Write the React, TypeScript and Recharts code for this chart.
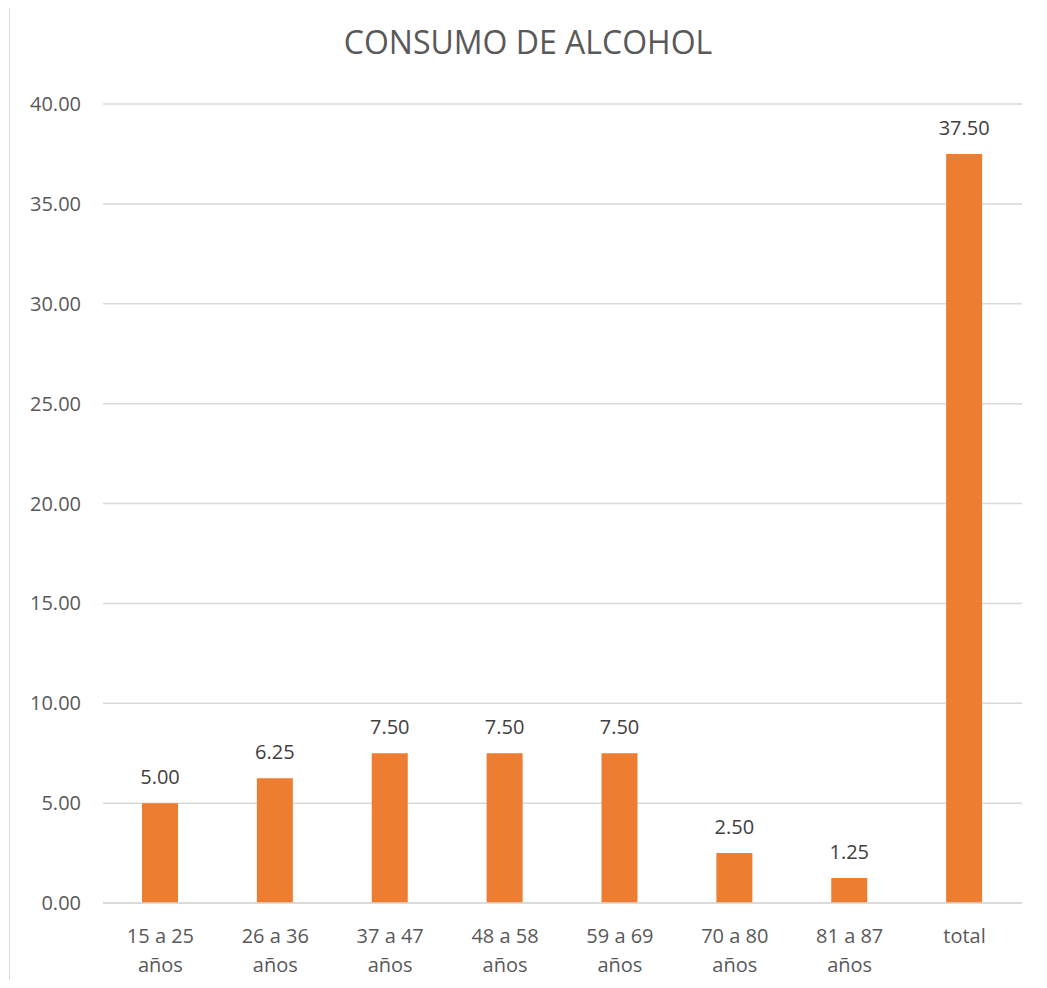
import React from "react";
import { BarChart, Bar, XAxis, YAxis, CartesianGrid, LabelList } from "recharts";

const categories = [
  "15 a 25 años",
  "26 a 36 años",
  "37 a 47 años",
  "48 a 58 años",
  "59 a 69 años",
  "70 a 80 años",
  "81 a 87 años",
  "total",
];
const values = [5.0, 6.25, 7.5, 7.5, 7.5, 2.5, 1.25, 37.5];
const yTicks = [0, 5, 10, 15, 20, 25, 30, 35, 40];

const data = categories.map((c, i) => ({ name: c, value: values[i] }));

const FONT = "'Open Sans', 'Noto Sans', sans-serif";
const TEXT = "#595959";
const LINE = "#D9D9D9";

// splits "15 a 25 años" into two lines like Excel does
function AgeTick(props: any) {
  const { x, y, payload } = props;
  const label: string = payload.value;
  const idx = label.lastIndexOf(" ");
  const lines = label.includes("años") ? [label.slice(0, idx), label.slice(idx + 1)] : [label];
  return (
    <text x={x} y={y} textAnchor="middle" fill={TEXT} fontSize={20} fontFamily={FONT}>
      {lines.map((l, i) => (
        <tspan key={i} x={x} dy={i === 0 ? 32 : 29}>
          {l}
        </tspan>
      ))}
    </text>
  );
}

export default function App() {
  return (
    <div style={{ position: "relative", width: 1047, height: 988, margin: -8, background: "#fff", overflow: "hidden" }}>
      {/* chart area border (top + left edges visible in the crop) */}
      <div style={{ position: "absolute", left: 9, top: 6, width: 1040, height: 1, background: LINE }} />
      <div style={{ position: "absolute", left: 9, top: 6, width: 1, height: 990, background: LINE }} />
      <div
        style={{
          position: "absolute",
          left: 0,
          width: 1056,
          top: 20,
          textAlign: "center",
          fontFamily: FONT,
          fontSize: 32,
          color: TEXT,
          lineHeight: "normal",
        }}
      >
        CONSUMO DE ALCOHOL
      </div>
      <div style={{ position: "absolute", left: 0, top: 0 }}>
        <BarChart
          width={1047}
          height={988}
          data={data}
          margin={{ top: 104, right: 25, left: 0, bottom: 0 }}
          barCategoryGap="0%"
        >
          <CartesianGrid vertical={false} stroke={LINE} strokeWidth={1.5} />
          <XAxis
            dataKey="name"
            tick={<AgeTick />}
            tickLine={false}
            axisLine={{ stroke: LINE, strokeWidth: 1.5 }}
            interval={0}
            height={85}
          />
          <YAxis
            width={103}
            domain={[0, 40]}
            ticks={yTicks}
            tickFormatter={(v: number) => v.toFixed(2)}
            tick={{ fill: TEXT, fontSize: 20, fontFamily: FONT }}
            tickLine={false}
            axisLine={false}
            tickMargin={16}
          />
          <Bar dataKey="value" fill="#ED7D31" barSize={36} isAnimationActive={false}>
            <LabelList
              dataKey="value"
              position="top"
              offset={19}
              formatter={(v: any) => Number(v).toFixed(2)}
              fill="#404040"
              fontSize={20}
              fontFamily={FONT}
            />
          </Bar>
        </BarChart>
      </div>
    </div>
  );
}
